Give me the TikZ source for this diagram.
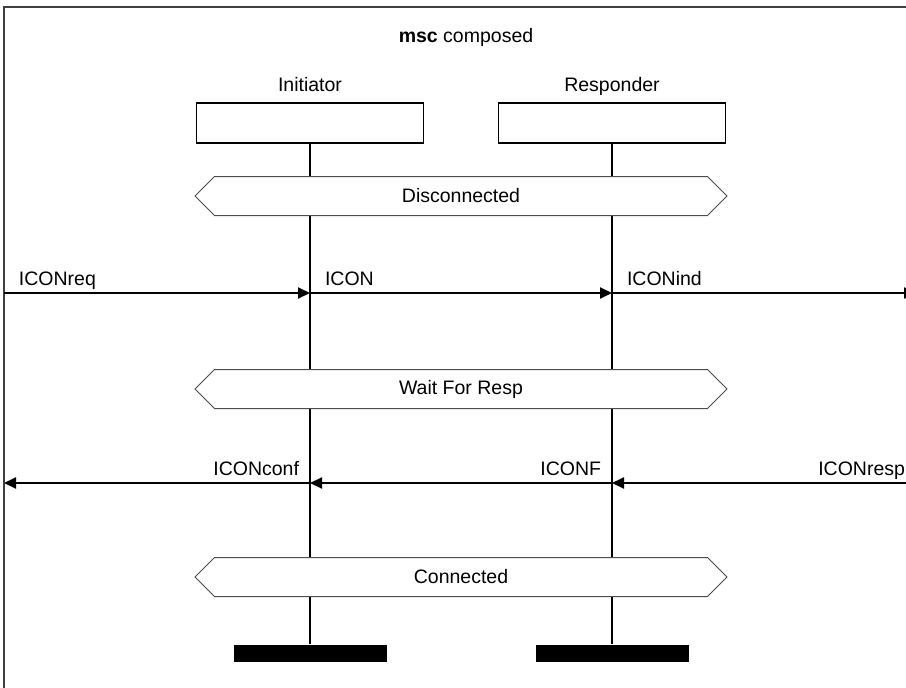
\documentclass[tikz,border=0pt]{standalone}
\usepackage{fontspec}
\setmainfont{Liberation Sans}
\usetikzlibrary{arrows.meta}
\usetikzlibrary{shapes.symbols}
\newcommand{\mscfont}{\fontsize{19.5}{23}\selectfont}
\tikzset{
every picture/.style={x=1pt, y=-1pt, font=\mscfont},
%%%%%%%%%%  Node styles
instbox/.style={draw, line width=1.3pt, minimum width=227pt, minimum height=40pt,
                inner sep=0pt},
instname/.style={anchor=base, inner sep=0pt},
stopbar/.style={fill=black, minimum width=153pt, minimum height=17pt, inner sep=0pt},
condition/.style={signal, signal to=west and east, signal pointer angle=90,
                  draw=black!70, line width=1pt, fill=white, inner sep=0pt,
                  minimum width=532pt, minimum height=39pt},
%%%%%%% line styles
frame/.style={line width=1.5pt, draw=black!75},
lifeline/.style={line width=2pt},
msg/.style={line width=2pt, -{Triangle[length=12pt,width=11pt]}},
%%%%%%% message labels
sendlabel/.style={anchor=base west, inner sep=0pt, xshift=14pt, yshift=8pt},
replylabel/.style={anchor=base east, inner sep=0pt, xshift=-10pt, yshift=8pt}
}

\begin{document}
\begin{tikzpicture}
\useasboundingbox (0,0) rectangle (906,688);
% frame
\draw[frame] (930,7) -- (4,7) -- (4,700);
\node (title) at (466,37) {\textbf{msc} composed};
% instances
\node[instbox] (ini) at (310,123) {};
\node[instbox] (res) at (612,123) {};
\node[instname] (ininame) at (310,91) {Initiator};
\node[instname] (resname) at (612,91) {Responder};
\node[stopbar] (inistop) at (310,653) {};
\node[stopbar] (resstop) at (612,653) {};
\draw[lifeline] (ini.south) -- (inistop.north);
\draw[lifeline] (res.south) -- (resstop.north);
% conditions
\node[condition] (disc) at (461,196) {Disconnected};
\node[condition] (wait) at (461,389) {Wait For Resp};
\node[condition] (conn) at (461,577) {Connected};
% message points
\coordinate (envl-a) at (4,293);
\coordinate (ini-a) at (310,293);
\coordinate (res-a) at (612,293);
\coordinate (envr-a) at (916,293);
\coordinate (envl-b) at (4,483);
\coordinate (ini-b) at (310,483);
\coordinate (res-b) at (612,483);
\coordinate (envr-b) at (916,483);
% messages
\draw[msg] (envl-a) -- node[pos=0, sendlabel] {ICONreq} (ini-a);
\draw[msg] (ini-a) -- node[pos=0, sendlabel] {ICON} (res-a);
\draw[msg] (res-a) -- node[pos=0, sendlabel] {ICONind} (envr-a);
\draw[msg] (envr-b) -- node[pos=0, replylabel] {ICONresp} (res-b);
\draw[msg] (res-b) -- node[pos=0, replylabel] {ICONF} (ini-b);
\draw[msg] (ini-b) -- node[pos=0, replylabel] {ICONconf} (envl-b);
\end{tikzpicture}
\end{document}
